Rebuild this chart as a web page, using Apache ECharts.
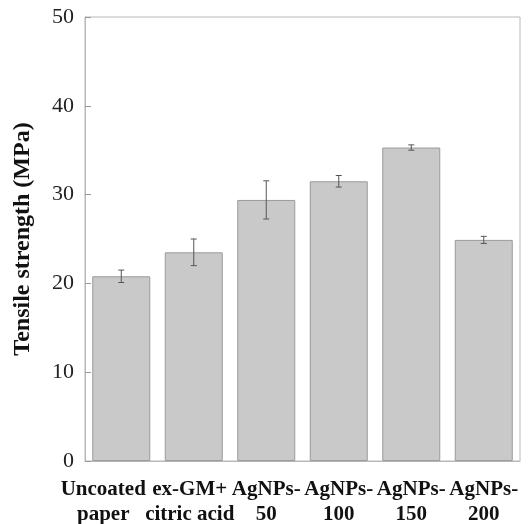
<!DOCTYPE html>
<html>
<head>
<meta charset="utf-8">
<script src="https://cdn.jsdelivr.net/npm/echarts@6/dist/echarts.min.js"></script>
<style>
html, body { margin: 0; padding: 0; background: #fff; }
#chart { width: 531px; height: 524px; }
</style>
</head>
<body>
<div id="chart"></div>
<script>
// 数据
var categories = ['Uncoated\npaper', 'ex-GM+\ncitric acid', 'AgNPs-\n50', 'AgNPs-\n100', 'AgNPs-\n150', 'AgNPs-\n200'];
var strength = [20.8, 23.5, 29.4, 31.5, 35.3, 24.9];
var errors = [0.7, 1.5, 2.15, 0.65, 0.3, 0.4];
var yTicks = [0, 10, 20, 30, 40, 50];

var errData = [];
for (var i = 0; i < strength.length; i++) {
	errData.push([i, strength[i] - errors[i], strength[i] + errors[i]]);
}

// 第一个标签太宽，往左挪一点
var labelShift = [36, 8, 0, 0, 0, 0];
var xData = [];
for (var k = 0; k < categories.length; k++) {
	xData.push({ value: categories[k], textStyle: { padding: [0, labelShift[k], 0, 0] } });
}

var chart = echarts.init(document.getElementById('chart'));
var font = 'Liberation Serif';

var option = {
	animation: false,
	grid: {
		left: 85,
		right: 11,
		top: 17,
		bottom: 63,
		outerBoundsMode: 'none',
		show: true,
		borderColor: '#b8b8b8',
		borderWidth: 1
	},
	xAxis: {
		type: 'category',
		data: xData,
		axisLine: { lineStyle: { color: '#b8b8b8' } },
		axisTick: { inside: true, length: 5, lineStyle: { color: '#999' } },
		axisLabel: {
			color: '#111',
			fontFamily: font,
			fontWeight: 'bold',
			fontSize: 21,
			lineHeight: 25,
			margin: 16,
			interval: 0,
			overflow: 'none',
			hideOverlap: false
		}
	},
	yAxis: {
		type: 'value',
		min: yTicks[0],
		max: yTicks[yTicks.length - 1],
		interval: 10,
		name: 'Tensile strength (MPa)',
		nameLocation: 'middle',
		nameGap: 50,
		nameTextStyle: {
			color: '#111',
			fontFamily: font,
			fontWeight: 'bold',
			fontSize: 24
		},
		axisLine: { show: true, lineStyle: { color: '#b8b8b8' } },
		axisTick: { show: true, inside: true, length: 6, lineStyle: { color: '#999' } },
		splitLine: { show: false },
		axisLabel: {
			color: '#222',
			fontFamily: font,
			fontSize: 22,
			margin: 11
		}
	},
	series: [{
		type: 'bar',
		data: strength,
		barCategoryGap: '20%',
		itemStyle: {
			color: '#c9c9c9',
			borderColor: '#9a9a9a',
			borderWidth: 1
		}
	}, {
		type: 'custom',
		data: errData,
		z: 10,
		renderItem: function(params, api) {
			var x = api.value(0);
			var lo = api.coord([x, api.value(1)]);
			var hi = api.coord([x, api.value(2)]);
			var w = 3;
			var st = { stroke: '#555', lineWidth: 1 };
			return {
				type: 'group',
				children: [
					{ type: 'line', shape: { x1: lo[0], y1: lo[1], x2: hi[0], y2: hi[1] }, style: st },
					{ type: 'line', shape: { x1: lo[0] - w, y1: lo[1], x2: lo[0] + w, y2: lo[1] }, style: st },
					{ type: 'line', shape: { x1: hi[0] - w, y1: hi[1], x2: hi[0] + w, y2: hi[1] }, style: st }
				]
			};
		}
	}]
};
chart.setOption(option);
</script>
</body>
</html>
